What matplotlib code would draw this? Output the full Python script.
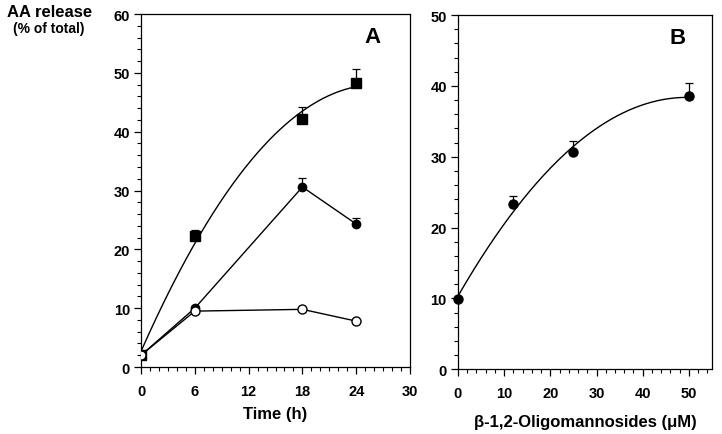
import numpy as np
import matplotlib
matplotlib.use("Agg")
import matplotlib.pyplot as plt
from matplotlib.ticker import MultipleLocator

plt.rcParams['font.family'] = ['Liberation Sans', 'DejaVu Sans']
plt.rcParams['font.weight'] = 'bold'

# Panel A: time course
time_h = [0, 6, 18, 24]
sq_vals = [2.0, 22.3, 42.2, 48.3]
sq_err = [0.0, 1.0, 2.0, 2.4]
fc_vals = [2.0, 10.0, 30.6, 24.3]
fc_err = [0.0, 0.4, 1.5, 1.1]
oc_vals = [2.0, 9.5, 9.8, 7.8]
oc_err = [0.0, 0.0, 0.3, 0.0]

# Panel B: dose response
conc_uM = [0, 12, 25, 50]
b_vals = [9.9, 23.3, 30.7, 38.5]
b_err = [0.0, 1.2, 1.5, 1.9]

fig = plt.figure(figsize=(7.22, 4.35), dpi=100)
axA = fig.add_axes([0.1953, 0.154, 0.3726, 0.8115])
axB = fig.add_axes([0.6343, 0.149, 0.3518, 0.8142])


def style(ax):
    for s in ax.spines.values():
        s.set_linewidth(0.9)
    ax.tick_params(which='major', direction='out', length=5, width=0.9,
                   labelsize=10.5)
    ax.tick_params(axis='x', which='major', pad=7)
    ax.tick_params(axis='y', which='major', pad=3)
    ax.tick_params(which='minor', direction='out', length=3, width=0.8)
    for lab in ax.get_xticklabels() + ax.get_yticklabels():
        lab.set_fontweight('bold')


def upper_err(ax, x, y, e):
    ax.errorbar(x, y, yerr=[np.zeros(len(e)), e], fmt='none', ecolor='black',
                elinewidth=0.9, capsize=3, capthick=0.9, zorder=2)


# ---- A ----
xx = np.linspace(0, 24, 200)
pA = np.polyfit(time_h, sq_vals, 2)
axA.plot(xx, np.polyval(pA, xx), color='black', lw=1.0, zorder=1)
upper_err(axA, time_h, sq_vals, sq_err)
axA.plot(time_h, sq_vals, 's', color='black', ms=7, zorder=3)

axA.plot(time_h, fc_vals, '-', color='black', lw=1.0, zorder=1)
upper_err(axA, time_h, fc_vals, fc_err)
axA.plot(time_h, fc_vals, 'o', color='black', ms=6, zorder=3)

axA.plot(time_h, oc_vals, '-', color='black', lw=1.0, zorder=1)
upper_err(axA, time_h, oc_vals, oc_err)
axA.plot(time_h, oc_vals, 'o', mfc='white', mec='black', mew=1.0, ms=6.5, zorder=4)

axA.set_xlim(0, 30)
axA.set_ylim(0, 60)
axA.xaxis.set_major_locator(MultipleLocator(6))
axA.xaxis.set_minor_locator(MultipleLocator(1))
axA.yaxis.set_major_locator(MultipleLocator(10))
axA.yaxis.set_minor_locator(MultipleLocator(2))
style(axA)
axA.set_xlabel('Time (h)', fontsize=12, fontweight='bold', labelpad=6)
axA.text(0.86, 0.935, 'A', transform=axA.transAxes, fontsize=16,
         fontweight='bold', ha='center', va='center')

# ---- B ----
xb = np.linspace(0, 50, 200)
pB = np.polyfit(conc_uM, b_vals, 2)
axB.plot(xb, np.polyval(pB, xb), color='black', lw=1.0, zorder=1)
upper_err(axB, conc_uM, b_vals, b_err)
axB.plot(conc_uM, b_vals, 'o', color='black', ms=6.5, zorder=3, clip_on=False)

axB.set_xlim(0, 55)
axB.set_ylim(0, 50)
axB.xaxis.set_major_locator(MultipleLocator(10))
axB.xaxis.set_minor_locator(MultipleLocator(2))
axB.yaxis.set_major_locator(MultipleLocator(10))
axB.yaxis.set_minor_locator(MultipleLocator(2))
style(axB)
axB.set_xlabel('\u03b2-1,2-Oligomannosides (\u03bcM)', fontsize=12,
               fontweight='bold', labelpad=10)
axB.text(0.865, 0.937, 'B', transform=axB.transAxes, fontsize=16,
         fontweight='bold', ha='center', va='center')

fig.text(0.068, 0.972, 'AA release', fontsize=12, fontweight='bold',
         ha='center', va='center')
fig.text(0.068, 0.933, '(% of total)', fontsize=10, fontweight='bold',
         ha='center', va='center')

fig.savefig('out.png', dpi=100)
